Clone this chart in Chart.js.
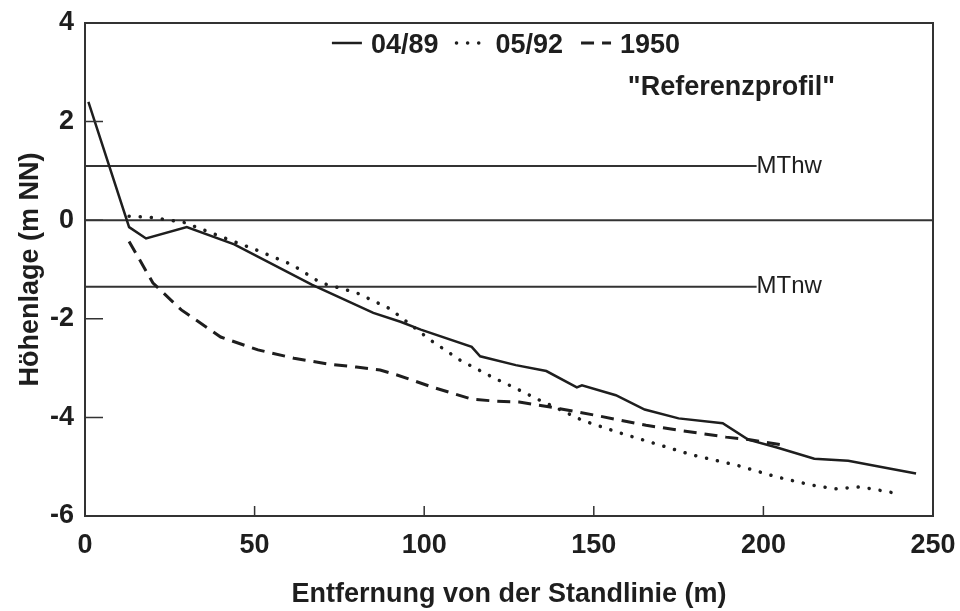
<!DOCTYPE html>
<html>
<head>
<meta charset="utf-8">
<script src="https://cdn.jsdelivr.net/npm/chart.js@4/dist/chart.umd.min.js"></script>
<style>
  body { margin: 0; background: #fff; }
</style>
</head>
<body>
<canvas id="c" width="960" height="611"></canvas>
<script>
// Profile 04/89 (solid)
const x0489 = [1, 13, 18, 30, 44, 67, 85, 93, 99, 114, 116.5, 127, 136, 145, 146.5, 156.5, 165, 175, 188, 195.5, 204, 215, 225, 237.5, 245];
const y0489 = [2.4, -0.14, -0.37, -0.14, -0.49, -1.31, -1.88, -2.06, -2.22, -2.57, -2.76, -2.94, -3.06, -3.39, -3.35, -3.55, -3.84, -4.02, -4.12, -4.45, -4.61, -4.84, -4.88, -5.04, -5.14];

// Profile 05/92 (dotted)
const x0592 = [13, 19, 29, 40, 50, 61, 69.5, 80, 90, 101.8, 110.6, 120, 127, 134, 140, 146.6, 157.5, 168, 179, 192.7, 203.5, 214, 221, 228.7, 240];
const y0592 = [0.08, 0.06, -0.04, -0.33, -0.59, -0.9, -1.27, -1.47, -1.8, -2.43, -2.84, -3.18, -3.41, -3.65, -3.84, -4.06, -4.31, -4.53, -4.76, -4.98, -5.2, -5.37, -5.45, -5.41, -5.55];

// Profile 1950 (dashed)
const x1950 = [13, 20, 28.4, 40, 51, 61.6, 72, 80, 87, 92, 102.6, 114, 121, 128, 138, 150.7, 165.4, 175, 189, 195.6, 205];
const y1950 = [-0.43, -1.27, -1.82, -2.37, -2.63, -2.8, -2.92, -2.98, -3.04, -3.14, -3.39, -3.63, -3.67, -3.69, -3.8, -3.96, -4.16, -4.26, -4.4, -4.45, -4.55];

// reference water levels
const refX = [0, 198];
const mthw = 1.1;
const mtnw = -1.35;
const zeroX = [0, 250];

const xTicks = [0, 50, 100, 150, 200, 250];
const yTicks = [-6, -4, -2, 0, 2, 4];

const FONT = '"Liberation Sans", Arial, sans-serif';
const INK = '#1e1e1e';

const pts = (xs, ys) => xs.map((v, i) => ({ x: v, y: ys[i] }));
const flat = (xs, v) => xs.map(x => ({ x: x, y: v }));

const frame = {
  id: 'frame',
  afterDatasetsDraw(chart) {
    const { ctx, chartArea: a, scales: { x, y } } = chart;
    ctx.save();
    ctx.strokeStyle = '#333';
    ctx.lineWidth = 2;
    ctx.strokeRect(a.left, a.top, a.width, a.height);

    ctx.lineWidth = 1.5;
    ctx.beginPath();
    yTicks.forEach(v => {
      const py = y.getPixelForValue(v);
      ctx.moveTo(a.left, py);
      ctx.lineTo(a.left + 18, py);
    });
    xTicks.forEach(v => {
      const px = x.getPixelForValue(v);
      ctx.moveTo(px, a.bottom);
      ctx.lineTo(px, a.bottom - 10);
    });
    ctx.stroke();

    ctx.fillStyle = INK;
    ctx.textBaseline = 'middle';
    ctx.textAlign = 'left';
    ctx.font = '24px ' + FONT;
    ctx.fillText('MThw', x.getPixelForValue(refX[1]), y.getPixelForValue(mthw));
    ctx.fillText('MTnw', x.getPixelForValue(refX[1]), y.getPixelForValue(mtnw));

    // legend row, built from the first three datasets
    ctx.font = 'bold 27px ' + FONT;
    const sw = 30, gapIn = 9, gapOut = 18;
    const items = chart.data.datasets.slice(0, 3);
    let total = 0;
    items.forEach((d, i) => {
      total += sw + gapIn + ctx.measureText(d.label).width + (i < items.length - 1 ? gapOut : 0);
    });
    let cx = (a.left + a.right) / 2 - 3 - total / 2;
    const ly = a.top + 23;
    items.forEach(d => {
      ctx.save();
      ctx.strokeStyle = d.borderColor;
      ctx.lineWidth = d.borderWidth;
      ctx.lineCap = d.borderCapStyle || 'butt';
      ctx.setLineDash(d.borderDash || []);
      ctx.beginPath();
      ctx.moveTo(cx, ly - 3);
      ctx.lineTo(cx + sw, ly - 3);
      ctx.stroke();
      ctx.restore();
      cx += sw + gapIn;
      ctx.fillText(d.label, cx, ly);
      cx += ctx.measureText(d.label).width + gapOut;
    });

    ctx.textAlign = 'right';
    ctx.fillText('"Referenzprofil"', a.right - 98, a.top + 65);
    ctx.restore();
  }
};

new Chart(document.getElementById('c'), {
  type: 'line',
  data: {
    datasets: [
      { label: '04/89', data: pts(x0489, y0489), borderColor: INK, borderWidth: 2.5 },
      { label: '05/92', data: pts(x0592, y0592), borderColor: INK, borderWidth: 3.5, borderDash: [0.1, 11], borderCapStyle: 'round' },
      { label: '1950', data: pts(x1950, y1950), borderColor: INK, borderWidth: 3, borderDash: [13, 8] },
      { label: 'MThw', data: flat(refX, mthw), borderColor: '#333', borderWidth: 2 },
      { label: 'MTnw', data: flat(refX, mtnw), borderColor: '#333', borderWidth: 2 },
      { label: 'NN', data: flat(zeroX, 0), borderColor: '#333', borderWidth: 2 }
    ]
  },
  options: {
    responsive: false,
    animation: false,
    layout: { padding: { top: 23, right: 27, left: 0, bottom: 0 } },
    elements: { point: { radius: 0 }, line: { tension: 0, fill: false } },
    plugins: {
      tooltip: { enabled: false },
      legend: { display: false }
    },
    scales: {
      x: {
        type: 'linear',
        min: 0,
        max: 250,
        afterFit: s => { s.height = 95; s.paddingLeft = 0; s.paddingRight = 0; },
        afterBuildTicks: s => { s.ticks = xTicks.map(v => ({ value: v })); },
        grid: { display: false, drawTicks: false },
        border: { display: true, color: '#333', width: 2 },
        ticks: { padding: 13, color: INK, font: { family: FONT, size: 27, weight: 'bold' } },
        title: {
          display: true,
          text: 'Entfernung von der Standlinie (m)',
          color: INK,
          padding: { top: 0, bottom: 0 },
          font: { family: FONT, size: 27, weight: 'bold' }
        }
      },
      y: {
        min: -6,
        max: 4,
        afterFit: s => { s.width = 85; s.paddingTop = 0; s.paddingBottom = 0; },
        afterBuildTicks: s => { s.ticks = yTicks.map(v => ({ value: v })); },
        grid: { display: false, drawTicks: false },
        border: { display: true, color: '#333', width: 2 },
        ticks: { padding: 11, color: INK, font: { family: FONT, size: 27, weight: 'bold' } },
        title: {
          display: true,
          text: 'Höhenlage (m NN)',
          color: INK,
          padding: { top: 14, bottom: 0 },
          font: { family: FONT, size: 27, weight: 'bold' }
        }
      }
    }
  },
  plugins: [frame]
});
</script>
</body>
</html>
